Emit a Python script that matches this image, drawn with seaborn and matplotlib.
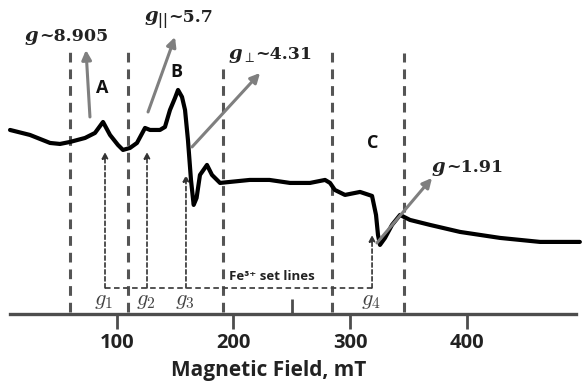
import numpy as np
import pandas as pd
import matplotlib
matplotlib.use("Agg")
import matplotlib.pyplot as plt
import seaborn as sns

# ---- data ----
field_mT = [8.6, 25.7, 42.9, 51.4, 60.0, 72.9, 81.4, 88.3, 94.3, 101.1, 105.4, 111.4,
            117.4, 124.3, 128.6, 137.1, 141.4, 145.7, 150.0, 152.6, 156.0, 158.6, 161.1,
            163.7, 166.0, 168.5, 171.4, 177.4, 181.7, 188.6, 197.0, 214.0, 231.0, 248.6,
            265.7, 278.6, 282.9, 287.0, 295.7, 308.6, 318.9, 322.3, 324.0, 325.7, 330.0,
            336.0, 342.9, 351.4, 368.6, 394.3, 428.6, 462.9, 497.0]
signal = [120, 115, 107, 106, 108, 112, 117, 128, 115, 105, 100, 102,
          107, 122, 120, 120, 123, 140, 152, 160, 153, 140, 110,
          70, 45, 52, 75, 85, 75, 67, 68, 70, 70, 67,
          67, 70, 67, 60, 55, 58, 54, 35, 15, 5, 12,
          25, 35, 30, 25, 18, 12, 8, 8]

region_lines = [60.0, 109.7, 191.0, 284.6, 346.3]      # thick dashed boundaries
region_tops = [200, 198, 183, 198, 197]
g_positions = [90.0, 126.0, 159.4, 318.9]               # Fe3+ set lines
g_tips = [98, 98, 75, 15]
g_labels = [r"$g_1$", r"$g_2$", r"$g_3$", r"$g_4$"]
x_ticks = [100, 200, 300, 400]

# annotations: g symbol, value text, anchor (junction) xy, arrow start, arrow end
g_syms = [r"$g$", r"$g_{||}$", r"$g_{\perp}$", r"$g$"]
g_vals = ["~8.905", "~5.7", "~4.31", "~1.91"]
g_anchor = [(33.5, 209), (144.0, 228), (219.0, 191), (382.5, 78)]
arrow_from = [(77.1, 133), (126.9, 138), (164.6, 103), (323.1, 7)]
arrow_to = [(73.7, 200), (150.0, 213), (222.9, 177), (370.3, 72)]
region_names = ["A", "B", "C"]
region_xy = [(87.4, 162), (150.9, 178), (319.7, 107)]

df = pd.DataFrame({"field": field_mT, "signal": signal})

sns.set_theme(style="white")
plt.rcParams["font.family"] = ["Open Sans", "DejaVu Sans"]
plt.rcParams["lines.scale_dashes"] = False
plt.rcParams["mathtext.fontset"] = "custom"
plt.rcParams["mathtext.rm"] = "DejaVu Serif:bold"
plt.rcParams["mathtext.it"] = "DejaVu Serif:italic:bold"
plt.rcParams["mathtext.bf"] = "DejaVu Serif:bold"

fig = plt.figure(figsize=(5.84, 3.88), dpi=100)
ax = fig.add_axes([0, 0.191, 1, 0.809])
ax.set_xlim(0, 500.57)
ax.set_ylim(-64, 250)

# thick dashed region lines
for x, top in zip(region_lines, region_tops):
    ax.plot([x, x], [-62, top], color="#555555", lw=2.2, dashes=(7, 5), zorder=1)

# Fe3+ set lines (thin dashed arrows + horizontal)
ax.plot([g_positions[0], g_positions[-1]], [-38, -38], color="#444444", lw=1.3,
        dashes=(4, 2.5), zorder=1)
for x, tip in zip(g_positions, g_tips):
    ax.annotate("", xy=(x, tip), xytext=(x, -38),
                arrowprops=dict(arrowstyle="-|>", color="#333333", lw=1.2,
                                linestyle=(0, (3, 2)), mutation_scale=9,
                                shrinkA=0, shrinkB=0), zorder=2)
for x, lab in zip(g_positions, g_labels):
    ax.text(x - 1, -51, lab, ha="center", va="center", fontsize=16,
            color="#444444", math_fontfamily="cm")
ax.text(196, -27, "Fe³⁺ set lines", ha="left", va="center", fontsize=9.5,
        fontweight="bold", color="#222222")

# EPR trace
sns.lineplot(data=df, x="field", y="signal", ax=ax, color="black", lw=3.0,
             zorder=3, legend=False)

# gray annotation arrows and labels
for sym, val, anc, a0, a1 in zip(g_syms, g_vals, g_anchor, arrow_from, arrow_to):
    ax.annotate("", xy=a1, xytext=a0,
                arrowprops=dict(arrowstyle="-|>", color="#7f7f7f", lw=2.2,
                                mutation_scale=14, shrinkA=0, shrinkB=0), zorder=4)
    ax.text(anc[0], anc[1], sym, ha="right", va="baseline", fontsize=14,
            color="#222222")
    ax.text(anc[0], anc[1], val, ha="left", va="baseline", fontsize=12.5,
            fontweight="bold", family="DejaVu Serif", color="#222222")
for n, xy in zip(region_names, region_xy):
    ax.text(xy[0], xy[1], n, ha="center", va="center", fontsize=13,
            fontweight="bold", color="#111111")

# axes styling
for s in ["left", "top", "right"]:
    ax.spines[s].set_visible(False)
ax.spines["bottom"].set_bounds(8.6, 494)
ax.spines["bottom"].set_color("#4d4d4d")
ax.spines["bottom"].set_linewidth(2.4)
ax.set_yticks([])
ax.set_xticks(x_ticks)
ax.set_xticks([250], minor=True)
ax.tick_params(axis="x", which="major", direction="out", length=11, width=2,
               color="#4d4d4d", labelsize=14.5, pad=3, bottom=True)
ax.tick_params(axis="x", which="minor", direction="in", length=11, width=2,
               color="#4d4d4d", bottom=True)
for lbl in ax.get_xticklabels():
    lbl.set_fontweight("bold")
    lbl.set_color("#222222")
ax.set_xlabel("Magnetic Field, mT", fontsize=15, fontweight="bold", color="#222222")
ax.xaxis.set_label_coords(269 / 584, (314 - 371) / 314)
ax.xaxis.label.set_va("center")
ax.set_ylabel("")

fig.savefig("out.png", dpi=100)
